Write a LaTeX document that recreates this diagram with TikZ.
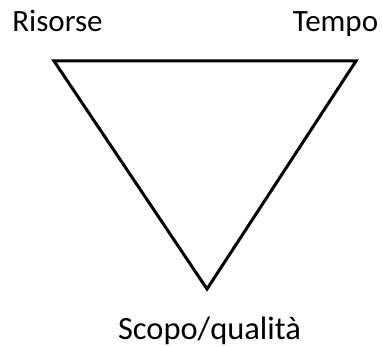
\documentclass[tikz,border=0pt]{standalone}
\usepackage{fontspec}
\setmainfont{Carlito}
\begin{document}
\begin{tikzpicture}[x=1pt,y=1pt,
  lbl/.style={font=\fontsize{31}{36}\selectfont, inner sep=0pt, anchor=base},
  tri/.style={draw=black, line width=3pt, line join=miter}]
\useasboundingbox (0,0) rectangle (382,346);
\coordinate (tl) at (54,285);
\coordinate (tr) at (356,285);
\coordinate (bt) at (207,57);
\draw[tri] (tl) -- (tr) -- (bt) -- cycle;
\node[lbl] (risorse) at (57.5,314) {Risorse};
\node[lbl] (tempo) at (335.5,314) {Tempo};
\node[lbl, font=\fontsize{32.5}{38}\selectfont] (scopo) at (209.5,7) {Scopo/qualità};
\end{tikzpicture}
\end{document}
